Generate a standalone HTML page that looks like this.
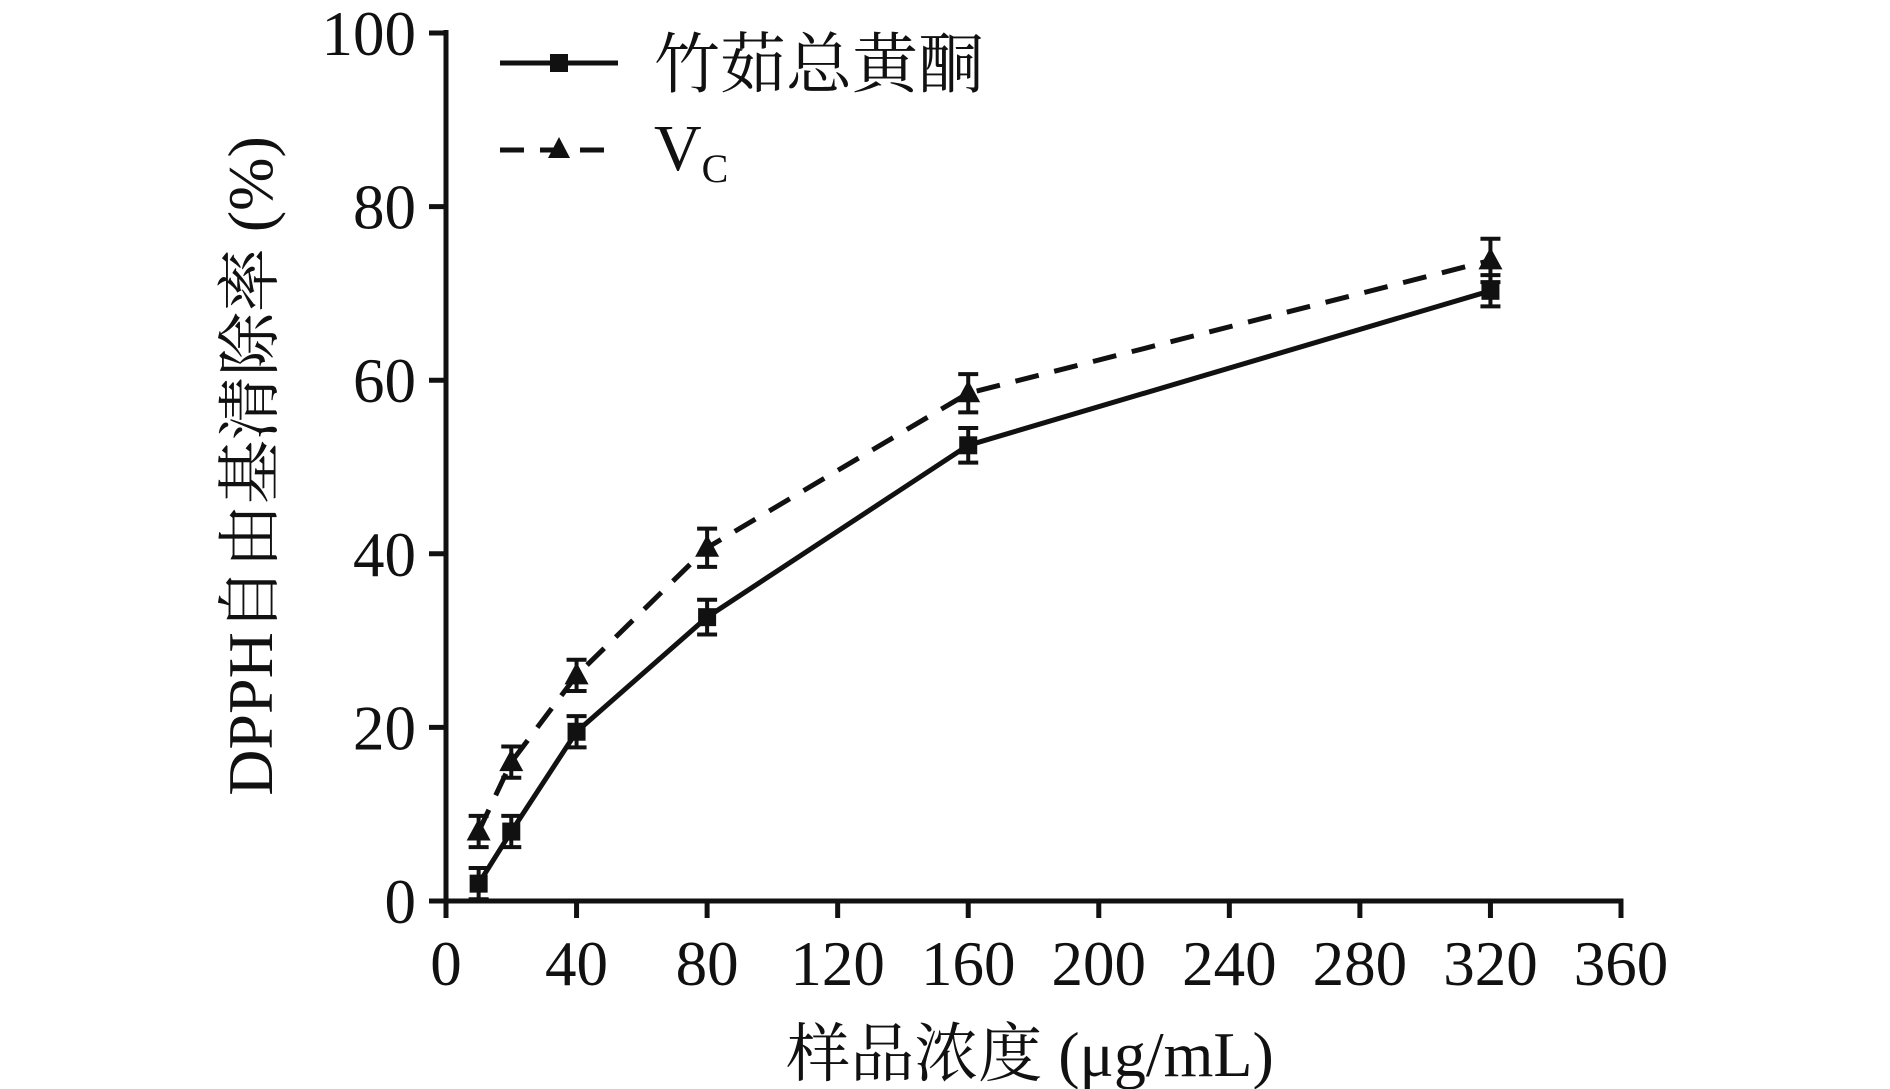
<!DOCTYPE html>
<html><head><meta charset="utf-8"><style>
html,body{margin:0;padding:0;background:#fff;}
svg{display:block;}
text{font-family:"Liberation Serif","Noto Serif CJK SC",serif;fill:#111;}
</style></head><body>
<svg id="chart" width="1890" height="1089" xmlns="http://www.w3.org/2000/svg">
<g id="axes"></g>
<g id="series"></g>
<g id="legend">
 <line x1="500" y1="63" x2="618" y2="63" stroke="#111" stroke-width="5"/>
 <rect x="550" y="54" width="18" height="18" fill="#111"/>
 <text x="654" y="87" font-size="66">竹茹总黄酮</text>
 <line x1="500" y1="150" x2="618" y2="150" stroke="#111" stroke-width="5" stroke-dasharray="24,16"/>
 <polygon points="559,137 548,158 570,158" fill="#111"/>
 <text x="654" y="170" font-size="66">V<tspan font-size="40" dy="12">C</tspan></text>
</g>
<text x="1030" y="1076" font-size="64" text-anchor="middle">样品浓度 (μg/mL)</text>
<text transform="translate(272,466) rotate(-90)" font-size="64" text-anchor="middle">DPPH自由基清除率 (%)</text>
</svg>
<script>
const xValues=[10,20,40,80,160,320];
const flavonoid=[2,8,19.5,32.7,52.5,70.3];
const flavonoidErr=[1.8,1.8,1.8,2,2,1.8];
const vc=[8,16,26,40.7,58.5,73.8];
const vcErr=[1.8,1.8,1.8,2.2,2.2,2.5];
const xTicks=[0,40,80,120,160,200,240,280,320,360];
const yTicks=[0,20,40,60,80,100];
const NS="http://www.w3.org/2000/svg";
const X=v=>446+v*(1621-446)/360;
const Y=v=>901-v*(901-33)/100;
function mk(tag,attrs,parent){const e=document.createElementNS(NS,tag);for(const k in attrs)e.setAttribute(k,attrs[k]);parent.appendChild(e);return e;}
const axes=document.getElementById('axes');
let a=mk('line',{x1:446,y1:30,x2:446,y2:903.5,stroke:'#111','stroke-width':5},axes);


a=mk('line',{x1:443.5,y1:901,x2:1623.5,y2:901,stroke:'#111','stroke-width':5},axes);


xTicks.forEach(t=>{
 const l=mk('line',{x1:X(t),y1:901,x2:X(t),y2:918,stroke:'#111','stroke-width':5},axes);
 
 
 const tx=mk('text',{x:X(t),y:985,'font-size':63,'text-anchor':'middle'},axes);
 tx.textContent=t;
 
 
});
yTicks.forEach(t=>{
 const l=mk('line',{x1:429,y1:Y(t),x2:446,y2:Y(t),stroke:'#111','stroke-width':5},axes);
 
 
 const tx=mk('text',{x:416,y:Y(t)+22,'font-size':63,'text-anchor':'end'},axes);
 tx.textContent=t;
 
 
});
const sg=document.getElementById('series');
function series(vals,errs,dash,marker,name){
 const pts=xValues.map((x,i)=>X(x)+','+Y(vals[i])).join(' ');
 const pl=mk('polyline',{points:pts,fill:'none',stroke:'#111','stroke-width':5,'stroke-dasharray':dash},sg);
 
 
 xValues.forEach((x,i)=>{
  const cx=X(x),cy=Y(vals[i]),t=Y(vals[i]+errs[i]),b=Y(vals[i]-errs[i]);
  const g=mk('g',{},sg);
  
  
  mk('line',{x1:cx,y1:t,x2:cx,y2:b,stroke:'#111','stroke-width':4},g);
  mk('line',{x1:cx-10,y1:t,x2:cx+10,y2:t,stroke:'#111','stroke-width':4},g);
  mk('line',{x1:cx-10,y1:b,x2:cx+10,y2:b,stroke:'#111','stroke-width':4},g);
  if(marker==='square')mk('rect',{x:cx-9,y:cy-9,width:18,height:18,fill:'#111'},g);
  else mk('polygon',{points:`${cx},${cy-13} ${cx-12},${cy+9} ${cx+12},${cy+9}`,fill:'#111'},g);
 });
}
series(vc,vcErr,'24,16','triangle','vc');
series(flavonoid,flavonoidErr,'none','square','flavonoid');
</script>
</body></html>
